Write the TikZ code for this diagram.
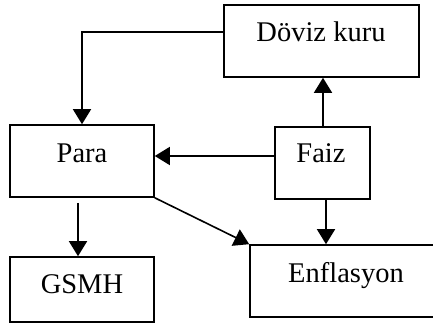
\documentclass[tikz,border=0pt]{standalone}
\usepackage{fontspec}
\setmainfont{Liberation Serif}
\usetikzlibrary{arrows.meta,calc}
\begin{document}
\begin{tikzpicture}[x=1pt,y=-1pt,
  box/.style={draw,line width=1.6pt,rectangle,inner sep=0pt},
  arr/.style={line width=1.6pt,-{Triangle[length=15pt,width=18pt]}},
  lbl/.style={font=\fontsize{28.5}{32}\selectfont,anchor=base,inner sep=0pt}]
\useasboundingbox (0,0) rectangle (433,323);
\node[box,minimum width=195pt,minimum height=72pt] (dk) at (321.5,41) {};
\node[box,minimum width=144pt,minimum height=72pt] (para) at (82,161) {};
\node[box,minimum width=95pt,minimum height=72pt] (faiz) at (322.5,163) {};
\node[box,minimum width=144pt,minimum height=65pt] (gsmh) at (82,289.5) {};
\node[box,minimum width=186pt,minimum height=72pt] (enf) at (343,281) {};
\node[lbl] (dkt) at (321,42) {Döviz kuru};
\node[lbl] (parat) at (82,163) {Para};
\node[lbl] (faizt) at (321,163) {Faiz};
\node[lbl] (gsmht) at (82,293) {GSMH};
\node[lbl] (enft) at (346,282) {Enflasyon};
\coordinate (c1) at (0,32);
\coordinate (c2) at (0,156);
\draw[arr] (dk.west |- c1) -| (para.north);
\draw[arr] ([xshift=0.5pt]faiz.north) -- ([xshift=0.5pt]faiz.north |- dk.south);
\draw[arr] (faiz.west |- c2) -- (para.east |- c2);
\draw[arr] ([shift={(-4,5)}]para.south) -- ([xshift=-4pt]para.south |- gsmh.north);
\draw[arr] ([xshift=3.5pt]faiz.south) -- ([xshift=3.5pt]faiz.south |- enf.north);
\draw[arr] (para.south east) -- (enf.north west);
\end{tikzpicture}
\end{document}
